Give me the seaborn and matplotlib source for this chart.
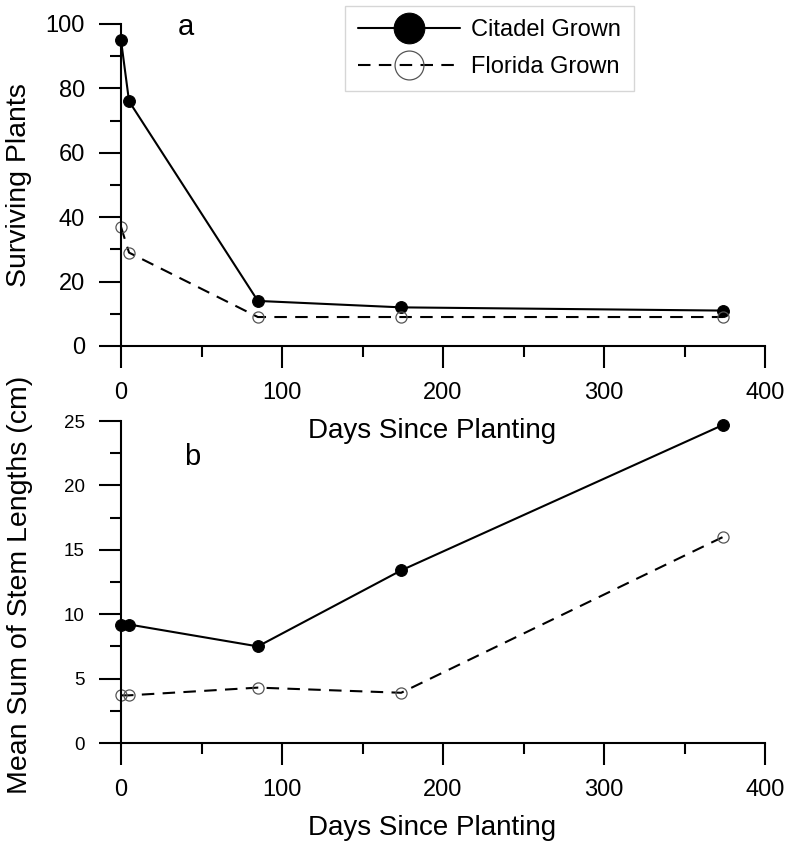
import matplotlib
matplotlib.use("Agg")
import matplotlib.pyplot as plt
from matplotlib.ticker import MultipleLocator
import seaborn as sns
import pandas as pd

sns.set_theme(style="ticks")
plt.rcParams['font.family'] = ['Liberation Sans', 'DejaVu Sans']
plt.rcParams['text.color'] = 'black'
plt.rcParams['axes.labelcolor'] = 'black'
plt.rcParams['xtick.color'] = 'black'
plt.rcParams['ytick.color'] = 'black'

days = [0, 5, 85, 174, 374]
citadel_survival = [95, 76, 14, 12, 11]
florida_survival = [37, 29, 9, 9, 9]
citadel_stem = [9.2, 9.2, 7.5, 13.4, 24.7]
florida_stem = [3.7, 3.7, 4.3, 3.9, 16.0]
series_names = ["Citadel Grown", "Florida Grown"]

df_a = pd.DataFrame({"days": days, "cit": citadel_survival, "flo": florida_survival})
df_b = pd.DataFrame({"days": days, "cit": citadel_stem, "flo": florida_stem})

fig = plt.figure(figsize=(7.87, 8.48), dpi=100)
ax1 = fig.add_axes([121/787, 1-346/848, 644/787, 322/848])
ax2 = fig.add_axes([121/787, 1-743/848, 644/787, 322/848])
ax1.set_zorder(3)
ax1.patch.set_alpha(0)
ax2.patch.set_alpha(0)

cit_kw = dict(color="black", linewidth=1.5, marker="o", markersize=8.5,
              markerfacecolor="black", markeredgecolor="black", clip_on=False)
flo_kw = dict(color="black", linewidth=1.5, linestyle=(0, (6, 4)), marker="o", markersize=8,
              markerfacecolor="none", markeredgecolor="#555555", markeredgewidth=0.9,
              clip_on=False)

for ax, df in [(ax1, df_a), (ax2, df_b)]:
    sns.lineplot(data=df, x="days", y="cit", ax=ax, label=series_names[0],
                 sort=False, legend=False, **cit_kw)
    sns.lineplot(data=df, x="days", y="flo", ax=ax, label=series_names[1],
                 sort=False, legend=False, **flo_kw)
    ax.set_xlim(0, 400)
    ax.xaxis.set_major_locator(MultipleLocator(100))
    ax.xaxis.set_minor_locator(MultipleLocator(50))
    for s in ["top", "right"]:
        ax.spines[s].set_visible(False)
    for s in ["left", "bottom"]:
        ax.spines[s].set_linewidth(1.5)
        ax.spines[s].set_color("black")
    ax.tick_params(which="major", direction="out", length=16, width=1.5, color="black",
                   pad=10, labelsize=17)
    ax.tick_params(which="minor", direction="out", length=8, width=1.5, color="black")
    ax.set_xlabel("Days Since Planting", fontsize=20)
    ax.xaxis.set_label_coords(0.483, -0.225)

ax1.set_ylim(0, 100)
ax1.yaxis.set_major_locator(MultipleLocator(20))
ax1.yaxis.set_minor_locator(MultipleLocator(10))
ax1.set_ylabel("Surviving Plants", fontsize=20.5)
ax1.yaxis.set_label_coords(-0.138, 0.5)

ax2.set_ylim(0, 25)
ax2.yaxis.set_major_locator(MultipleLocator(5))
ax2.yaxis.set_minor_locator(MultipleLocator(2.5))
ax2.tick_params(axis="y", which="major", labelsize=13.5)
ax2.set_ylabel("Mean Sum of Stem Lengths (cm)", fontsize=20.5)
ax2.yaxis.set_label_coords(-0.136, 0.49)

ax1.text((186-121)/644, (346-27)/322, "a", transform=ax1.transAxes, fontsize=21,
         ha="center", va="center")
ax2.text((192-121)/644, (743-457)/322, "b", transform=ax2.transAxes, fontsize=21,
         ha="center", va="center")

leg = ax1.legend(loc="upper left", bbox_to_anchor=((345-121)/644, (346-6)/322),
                 fontsize=17, markerscale=2.6, handlelength=4.3, frameon=True,
                 fancybox=False, edgecolor="#cccccc", borderpad=0.55,
                 labelspacing=0.65, handletextpad=0.5, borderaxespad=0)
leg.get_frame().set_linewidth(1.0)

fig.savefig("out.png", dpi=100, facecolor="white")
